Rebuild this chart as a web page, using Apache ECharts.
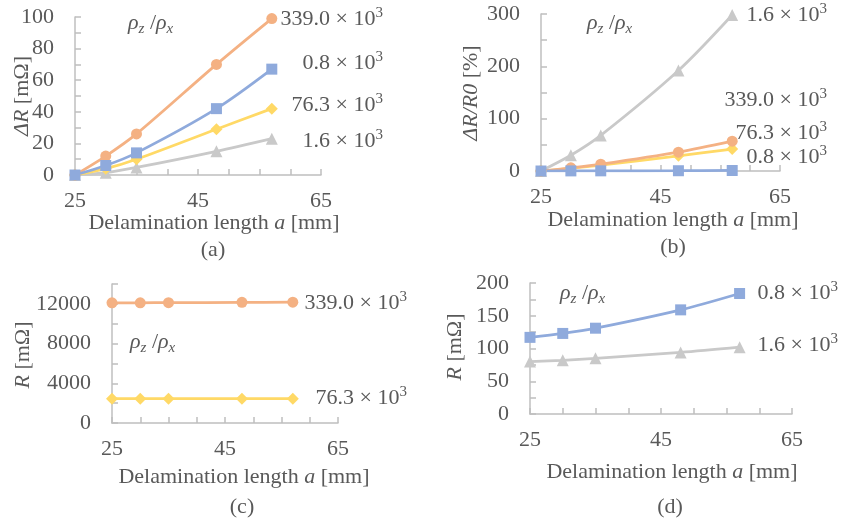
<!DOCTYPE html>
<html>
<head>
<meta charset="utf-8">
<script src="https://cdn.jsdelivr.net/npm/echarts@6/dist/echarts.min.js"></script>
<style>
  html, body { margin: 0; padding: 0; background: #fff; }
  #main { width: 846px; height: 518px; }
</style>
</head>
<body>
<div id="main"></div>
<script>
// delamination length a [mm]
var lengths = [25, 30, 35, 48, 57];

// (a) ΔR [mΩ]
var dR_339 = [0, 12, 26, 70, 99];
var dR_08 = [0, 6, 14, 42, 67];
var dR_763 = [0, 4, 10, 29, 42];
var dR_16 = [0, 1.5, 4.8, 15, 23];

// (b) ΔR/R0 [%]
var pct_16 = [0, 30, 68, 192, 298];
var pct_339 = [0, 6, 13, 36, 57];
var pct_763 = [0, 5, 11, 29, 42];
var pct_08 = [0, 0.2, 0.3, 0.5, 1];

// (c) R [mΩ]
var R_339 = [12100, 12110, 12120, 12150, 12170];
var R_763 = [2450, 2450, 2450, 2455, 2455];

// (d) R [mΩ]
var R_08 = [117, 123, 131, 159, 184];
var R_16 = [80, 82, 85, 94, 102];

var FONT = '"Liberation Serif", "Times New Roman", serif';
var FS = 22;
var TXT = '#595959';
var AXIS = '#BFBFBF';
var ORANGE = '#F4B183', BLUE = '#8FAADC', YELLOW = '#FFD966', GRAY = '#C9C9C9';

var chart = echarts.init(document.getElementById('main'), null, { renderer: 'canvas' });

function pairs(ys) {
  return ys.map(function (y, i) { return [lengths[i], y]; });
}

function xAxisFor(grid) {
  return {
    type: 'value', gridIndex: grid, min: 25, max: 65, interval: 5,
    axisLine: { lineStyle: { color: AXIS, width: 1.5 } },
    axisTick: { show: true, inside: true, length: 6, lineStyle: { color: AXIS, width: 1.5 } },
    splitLine: { show: false },
    axisLabel: {
      color: TXT, fontSize: FS, fontFamily: FONT, margin: 15,
      formatter: function (v) { return (v - 25) % 20 === 0 ? String(v) : ''; }
    }
  };
}

function yAxisFor(grid, max, step, labelStep) {
  return {
    type: 'value', gridIndex: grid, min: 0, max: max, interval: step,
    axisLine: { show: true, lineStyle: { color: AXIS, width: 1.5 } },
    axisTick: { show: true, inside: true, length: 6, lineStyle: { color: AXIS, width: 1.5 } },
    splitLine: { show: false },
    axisLabel: {
      color: TXT, fontSize: FS, fontFamily: FONT, margin: 21,
      formatter: function (v) { return v % labelStep === 0 ? String(v) : ''; }
    }
  };
}

function line(grid, data, color, symbol, size) {
  return {
    type: 'line', xAxisIndex: grid, yAxisIndex: grid,
    data: pairs(data), smooth: 0.3,
    symbol: symbol, symbolSize: size, showSymbol: true,
    lineStyle: { color: color, width: 2.75 },
    itemStyle: { color: color },
    animation: false
  };
}

var richText = {
  p: { fontStyle: 'italic', fontSize: FS, lineHeight: 26, fontFamily: FONT, fill: TXT, color: TXT },
  s: { fontStyle: 'italic', fontSize: 15, lineHeight: 14, padding: [12, 0, 0, 0], fontFamily: FONT, fill: TXT, color: TXT },
  u: { fontSize: 15, lineHeight: 14, padding: [0, 0, 12, 0], fontFamily: FONT, fill: TXT, color: TXT },
  n: { fontSize: FS, lineHeight: 26, fontFamily: FONT, fill: TXT, color: TXT },
  i: { fontStyle: 'italic', fontSize: FS, lineHeight: 26, fontFamily: FONT, fill: TXT, color: TXT }
};

function note(text, x, y, align, rot) {
  return {
    type: 'text', x: x, y: y, rotation: rot || 0, silent: true,
    style: {
      text: text, rich: richText, fill: TXT,
      font: FS + 'px ' + FONT,
      align: align || 'left', verticalAlign: 'middle'
    }
  };
}

// "339.0 × 10^3"-style series tag
function ratio(v) {
  return '{n|' + v + ' × 10}{u|3}';
}

var ratioLabel = '{p|ρ}{s|z}{n| /}{p|ρ}{s|x}';
var xTitle = '{n|Delamination length }{i|a}{n| [mm]}';
var UP = Math.PI / 2;

var option = {
  backgroundColor: '#fff',
  animation: false,
  grid: [
    { left: 75, top: 17, width: 246, height: 158 },
    { left: 541, top: 14, width: 239, height: 157 },
    { left: 112, top: 284, width: 226, height: 139 },
    { left: 530, top: 283, width: 262, height: 131 }
  ],
  xAxis: [xAxisFor(0), xAxisFor(1), xAxisFor(2), xAxisFor(3)],
  yAxis: [
    yAxisFor(0, 100, 10, 20),
    yAxisFor(1, 300, 50, 100),
    yAxisFor(2, 14000, 2000, 4000),
    yAxisFor(3, 200, 25, 50)
  ],
  series: [
    line(0, dR_16, GRAY, 'triangle', 12),
    line(0, dR_763, YELLOW, 'diamond', 12),
    line(0, dR_339, ORANGE, 'circle', 11),
    line(0, dR_08, BLUE, 'rect', 11),

    line(1, pct_16, GRAY, 'triangle', 12),
    line(1, pct_763, YELLOW, 'diamond', 12),
    line(1, pct_339, ORANGE, 'circle', 11),
    line(1, pct_08, BLUE, 'rect', 11),

    line(2, R_339, ORANGE, 'circle', 11),
    line(2, R_763, YELLOW, 'diamond', 12),

    line(3, R_16, GRAY, 'triangle', 12),
    line(3, R_08, BLUE, 'rect', 11)
  ],
  graphic: [
    // (a)
    note('{i|ΔR}{n| [mΩ]}', 22, 96, 'center', UP),
    note(ratioLabel, 128, 23),
    note(ratio('339.0'), 383, 19, 'right'),
    note(ratio('0.8'), 383, 63, 'right'),
    note(ratio('76.3'), 383, 105, 'right'),
    note(ratio('1.6'), 383, 141, 'right'),
    note(xTitle, 214, 223, 'center'),
    note('{n|(a)}', 213, 250, 'center'),
    // (b)
    note('{i|ΔR/R0}{n| [%]}', 471, 93, 'center', UP),
    note(ratioLabel, 587, 23),
    note(ratio('1.6'), 827, 15, 'right'),
    note(ratio('339.0'), 827, 100, 'right'),
    note(ratio('76.3'), 827, 133, 'right'),
    note(ratio('0.8'), 827, 157, 'right'),
    note(xTitle, 673, 220, 'center'),
    note('{n|(b)}', 673, 247, 'center'),
    // (c)
    note('{i|R}{n| [mΩ]}', 23, 355, 'center', UP),
    note(ratioLabel, 130, 342),
    note(ratio('339.0'), 407, 303, 'right'),
    note(ratio('76.3'), 407, 398, 'right'),
    note(xTitle, 244, 477, 'center'),
    note('{n|(c)}', 242, 507, 'center'),
    // (d)
    note('{i|R}{n| [mΩ]}', 455, 347, 'center', UP),
    note(ratioLabel, 560, 293),
    note(ratio('0.8'), 838, 293, 'right'),
    note(ratio('1.6'), 838, 345, 'right'),
    note(xTitle, 672, 472, 'center'),
    note('{n|(d)}', 670, 507, 'center')
  ]
};

chart.setOption(option);
</script>
</body>
</html>
